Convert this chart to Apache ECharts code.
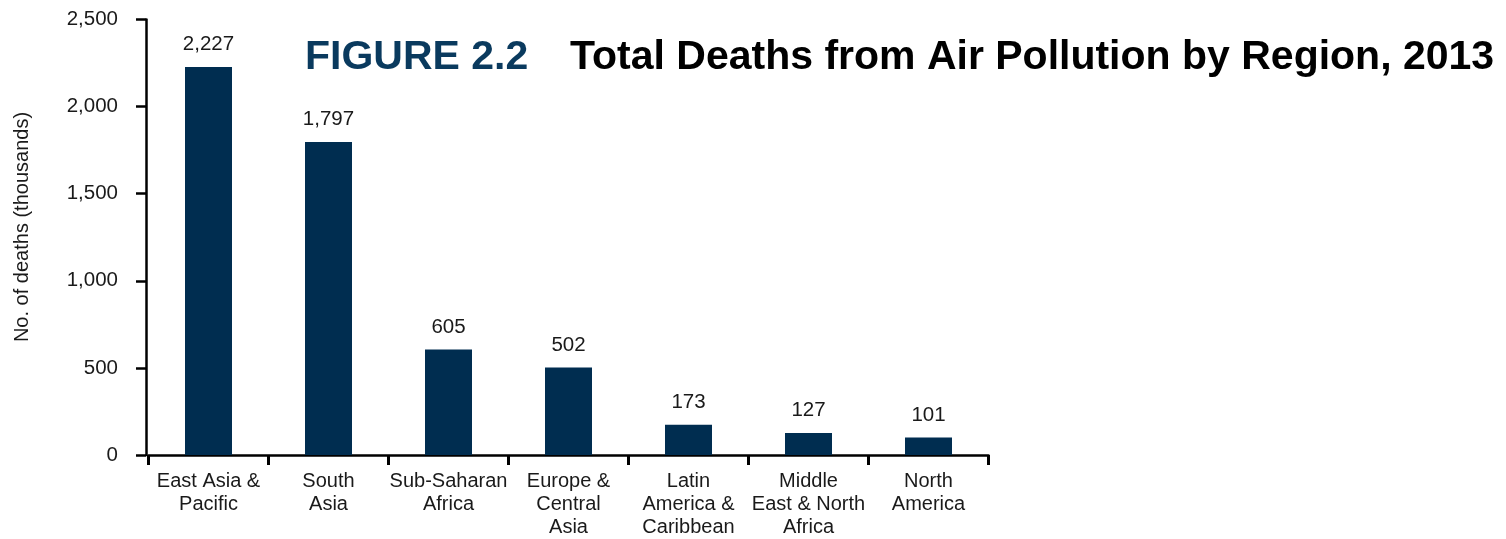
<!DOCTYPE html>
<html>
<head>
<meta charset="utf-8">
<script src="https://cdn.jsdelivr.net/npm/echarts@6/dist/echarts.min.js"></script>
<style>
  html, body { margin: 0; padding: 0; background: #ffffff; }
  #chart { width: 1506px; height: 539px; }
</style>
</head>
<body>
<div id="chart"></div>
<script>
// Regions (x-axis categories), deaths in thousands, and y-axis ticks
const regions = [
  'East Asia &\nPacific',
  'South\nAsia',
  'Sub-Saharan\nAfrica',
  'Europe &\nCentral\nAsia',
  'Latin\nAmerica &\nCaribbean',
  'Middle\nEast & North\nAfrica',
  'North\nAmerica'
];
const deaths = [2227, 1797, 605, 502, 173, 127, 101];
const yTicks = [0, 500, 1000, 1500, 2000, 2500];

const FONT = '"Liberation Sans", Arial, Helvetica, sans-serif';
const NAVY = '#002d50';
const TEXT = '#1a1a1a';
const fmt = v => Number(v).toLocaleString('en-US');

const chart = echarts.init(document.getElementById('chart'), null, { renderer: 'canvas' });

chart.setOption({
  animation: false,
  backgroundColor: '#ffffff',
  textStyle: { fontFamily: FONT },
  grid: { left: 148.5, top: 19.5, right: 517.5, bottom: 81.5, containLabel: false },
  graphic: [
    {
      type: 'text', x: 305, y: 58,
      style: {
        text: 'FIGURE 2.2', font: 'bold 41px ' + FONT, fill: '#0a3a5e',
        align: 'left', verticalAlign: 'middle'
      }
    },
    {
      type: 'text', x: 570, y: 58,
      style: {
        text: 'Total Deaths from Air Pollution by Region, 2013', font: 'bold 41px ' + FONT,
        fill: '#000000', align: 'left', verticalAlign: 'middle'
      }
    },
    {
      // y-axis title, rotated
      type: 'text', x: 22, y: 227, rotation: Math.PI / 2,
      style: {
        text: 'No. of deaths (thousands)', font: '20px ' + FONT, fill: TEXT,
        align: 'center', verticalAlign: 'middle'
      }
    }
  ],
  xAxis: {
    type: 'category',
    data: regions,
    axisLine: { show: true, lineStyle: { color: '#000', width: 2.5 } },
    axisTick: { show: true, alignWithLabel: false, length: 10, lineStyle: { color: '#000', width: 3 } },
    axisLabel: {
      interval: 0, margin: 15, color: TEXT, fontSize: 20, lineHeight: 23,
      fontFamily: FONT, align: 'center', verticalAlign: 'top'
    },
    splitLine: { show: false }
  },
  yAxis: {
    type: 'value',
    offset: 2.5,
    min: yTicks[0],
    max: yTicks[yTicks.length - 1],
    interval: yTicks[1] - yTicks[0],
    axisLine: { show: true, lineStyle: { color: '#000', width: 2.5 } },
    axisTick: { show: true, inside: false, length: 10, lineStyle: { color: '#000', width: 2.5 } },
    axisLabel: { margin: 28, color: TEXT, fontSize: 20.5, fontFamily: FONT, formatter: fmt },
    splitLine: { show: false }
  },
  series: [{
    type: 'bar',
    data: deaths,
    barWidth: 47,
    itemStyle: { color: NAVY },
    label: {
      show: true, position: 'top', distance: 12,
      color: TEXT, fontSize: 20.5, fontFamily: FONT,
      formatter: p => fmt(p.value)
    }
  }]
});
</script>
</body>
</html>
